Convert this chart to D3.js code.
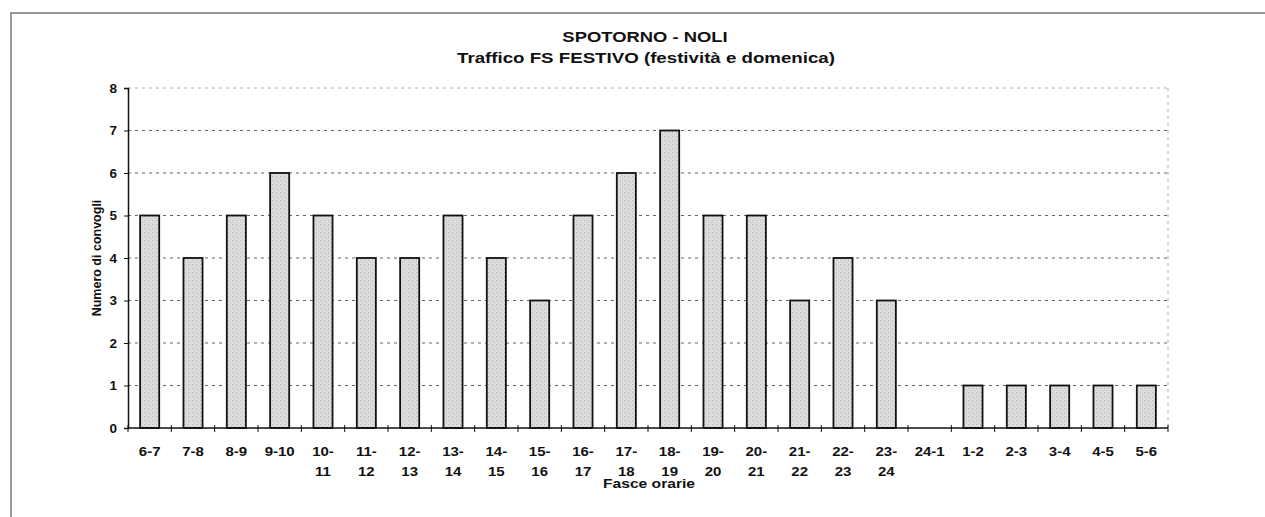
<!DOCTYPE html>
<html>
<head>
<meta charset="utf-8">
<title>Spotorno - Noli</title>
<style>
  body { margin: 0; background: #fff; }
  svg { font-family: "Liberation Sans", Arial, sans-serif; }
  .title { font-size: 14.5px; font-weight: bold; fill: #111; }
  .lab { font-size: 12.5px; font-weight: bold; fill: #111; }
  .axis-label { font-size: 12.5px; font-weight: bold; fill: #111; }
</style>
</head>
<body>
<div id="chart"></div>
<script src="https://d3js.org/d3.v7.min.js"></script>
<script>
// tick labels, "|" marks a line break
var fasce = ["6-7","7-8","8-9","9-10","10-|11","11-|12","12-|13","13-|14","14-|15","15-|16",
  "16-|17","17-|18","18-|19","19-|20","20-|21","21-|22","22-|23","23-|24","24-1","1-2","2-3","3-4","4-5","5-6"];
var convogli = [5,4,5,6,5,4,4,5,4,3,5,6,7,5,5,3,4,3,0,1,1,1,1,1];
var yTicks = [0,1,2,3,4,5,6,7,8];

var W = 1265, H = 517;
var plot = {left: 128, right: 1168, top: 88, bottom: 428};
var stretch = 1.2; // the scanned text is wider than normal Arial

var svg = d3.select("#chart").append("svg")
  .attr("width", W).attr("height", H);

// stippled grey fill for the bars
var pat = svg.append("defs").append("pattern")
  .attr("id", "stipple").attr("patternUnits", "userSpaceOnUse")
  .attr("width", 4).attr("height", 4);
pat.append("rect").attr("width", 4).attr("height", 4).attr("fill", "#dcdcdc");
pat.append("rect").attr("x", 0).attr("y", 0).attr("width", 1).attr("height", 1).attr("fill", "#b4b4b4");
pat.append("rect").attr("x", 2).attr("y", 2).attr("width", 1).attr("height", 1).attr("fill", "#c4c4c4");

// outer frame (only top and left visible in the scan)
svg.append("path")
  .attr("d", "M11," + H + "V13H" + W)
  .attr("fill", "none").attr("stroke", "#777").attr("stroke-width", 1.5);

var x = d3.scaleBand().domain(fasce)
  .range([plot.left, plot.right]).paddingInner(0.56).paddingOuter(0.28);
var y = d3.scaleLinear().domain([0, 8]).range([plot.bottom, plot.top]);

function wideText(cls, px, py, str, sx) {
  return svg.append("text").attr("class", cls)
    .attr("transform", "translate(" + px + "," + py + ") scale(" + sx + ",1)")
    .attr("text-anchor", "middle")
    .text(str);
}

// title
wideText("title", 645, 42, "SPOTORNO - NOLI", 1.27);
wideText("title", 646, 63, "Traffico FS FESTIVO (festività e domenica)", 1.29);

// grid
svg.append("g").selectAll("line").data(yTicks.filter(d => d > 0)).enter()
  .append("line")
  .attr("x1", plot.left).attr("x2", plot.right)
  .attr("y1", d => y(d)).attr("y2", d => y(d))
  .attr("stroke", d => d === 8 ? "#aaa" : "#666")
  .attr("stroke-width", 1)
  .attr("stroke-dasharray", "3,4");

svg.append("line")
  .attr("x1", plot.right).attr("x2", plot.right)
  .attr("y1", plot.top).attr("y2", plot.bottom)
  .attr("stroke", "#aaa").attr("stroke-dasharray", "3,4");

// bars
svg.append("g").selectAll("rect").data(fasce).enter()
  .filter((d, i) => convogli[i] > 0)
  .append("rect")
  .attr("x", d => x(d))
  .attr("y", d => y(convogli[fasce.indexOf(d)]))
  .attr("width", x.bandwidth())
  .attr("height", d => plot.bottom - y(convogli[fasce.indexOf(d)]))
  .attr("fill", "url(#stipple)")
  .attr("stroke", "#111").attr("stroke-width", 1.8);

// y axis
var yAxis = svg.append("g")
  .attr("transform", "translate(" + plot.left + ",0)")
  .call(d3.axisLeft(y).tickValues(yTicks).tickSize(4).tickPadding(7));
yAxis.select(".domain").attr("stroke", "#111").attr("stroke-width", 1.5);
yAxis.selectAll(".tick line").attr("stroke", "#111");
yAxis.selectAll(".tick text")
  .style("font-size", "13.5px").style("font-weight", "bold")
  .style("font-family", "'Liberation Sans', Arial, sans-serif")
  .attr("fill", "#111");

// x axis: ticks at category boundaries
var boundaries = d3.range(fasce.length + 1).map(i => plot.left + i * (plot.right - plot.left) / fasce.length);
var xAxisG = svg.append("g");
xAxisG.append("line")
  .attr("x1", plot.left).attr("x2", plot.right)
  .attr("y1", plot.bottom).attr("y2", plot.bottom)
  .attr("stroke", "#111").attr("stroke-width", 1.5);
xAxisG.selectAll(".bt").data(boundaries).enter()
  .append("line").attr("class", "bt")
  .attr("x1", d => d).attr("x2", d => d)
  .attr("y1", plot.bottom - 3).attr("y2", plot.bottom + 4)
  .attr("stroke", "#111");

xAxisG.selectAll(".lab").data(fasce).enter()
  .append("text").attr("class", "lab")
  .attr("text-anchor", "middle")
  .attr("transform", d => "translate(" + (x(d) + x.bandwidth() / 2) + ",0) scale(" + stretch + ",1)")
  .each(function(d) {
    var t = d3.select(this);
    d.split("|").forEach(function(part, k) {
      t.append("tspan").attr("x", 0).attr("y", 456 + k * 20).text(part);
    });
  });

// axis titles
wideText("axis-label", 649, 488, "Fasce orarie", 1.25);
svg.append("text").attr("class", "axis-label")
  .attr("transform", "translate(101," + ((plot.top + plot.bottom) / 2) + ") rotate(-90)")
  .attr("text-anchor", "middle")
  .text("Numero di convogli");
</script>
</body>
</html>
